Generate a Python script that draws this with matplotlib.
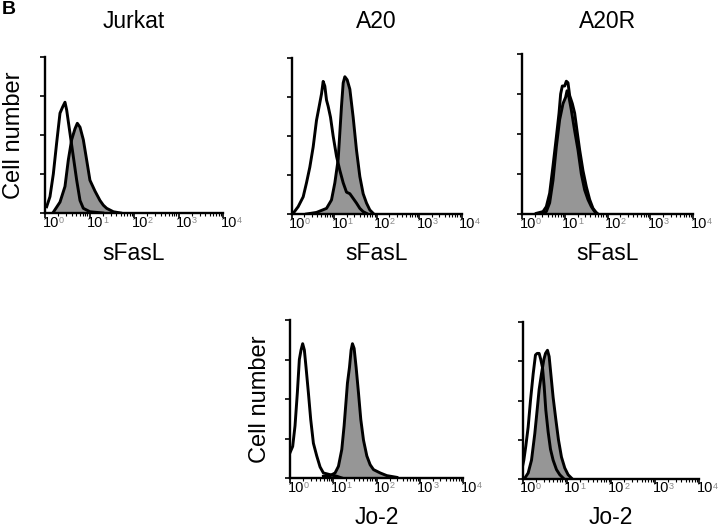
import numpy as np
import matplotlib
matplotlib.use("Agg")
import matplotlib.pyplot as plt
from matplotlib.ticker import LogLocator, FixedLocator, NullFormatter

plt.rcParams['font.family'] = ['Liberation Sans', 'DejaVu Sans']

W, H = 720, 529

# ---------------- data (log10 fluorescence, % of axis max) ----------------
# Jurkat, sFasL
jurkat_open_log = [0.037, 0.112, 0.187, 0.262, 0.337, 0.397, 0.449, 0.487, 0.562, 0.637, 0.712, 0.787, 0.861, 1.01, 1.3]
jurkat_open_cnt = [4, 10.5, 25, 45, 64, 68, 71, 66, 51, 36, 21, 8, 3, 0.8, 0]
jurkat_fill_log = [0.187, 0.337, 0.449, 0.524, 0.599, 0.674, 0.726, 0.787, 0.861, 0.936, 1.01, 1.124, 1.236, 1.311, 1.386, 1.536, 1.7]
jurkat_fill_cnt = [0.5, 7, 17, 34, 47, 54, 57.5, 55, 47, 34, 21, 14, 8, 5, 3, 0.8, 0]

# A20, sFasL
a20_open_log = [0.039, 0.157, 0.275, 0.353, 0.431, 0.510, 0.588, 0.651, 0.706, 0.745, 0.784, 0.824, 0.863, 0.918, 0.980,
                1.059, 1.137, 1.216, 1.294, 1.373, 1.451, 1.529, 1.608, 1.686, 1.765]
a20_open_cnt = [0.4, 4.7, 11, 20, 30, 43, 60, 69, 77, 85, 82, 73, 69, 62, 50,
                37, 28, 20, 14, 13, 10, 7, 3.6, 1.5, 0.4]
a20_fill_log = [0.353, 0.588, 0.824, 0.941, 1.020, 1.098, 1.137, 1.176, 1.216, 1.255, 1.310, 1.373, 1.451, 1.529, 1.608,
                1.686, 1.765, 1.843, 1.922]
a20_fill_cnt = [0, 1, 3.6, 9, 20, 35, 52, 69, 84, 88, 86, 80, 62, 41, 24,
                13, 7, 2.6, 0.4]

# A20R, sFasL
a20r_open_log = [0.335, 0.491, 0.569, 0.647, 0.725, 0.803, 0.866, 0.904, 0.943, 0.998, 1.037, 1.076, 1.115, 1.177, 1.232,
                 1.287, 1.349, 1.427, 1.505, 1.583, 1.661, 1.739]
a20r_open_cnt = [0.4, 1.5, 4.6, 13, 30, 48, 63, 75, 80, 80, 83, 82, 74, 69, 63,
                 52, 40, 27, 17, 9, 3.5, 0.8]
a20r_fill_log = [0.413, 0.569, 0.647, 0.725, 0.803, 0.881, 0.959, 1.021, 1.053, 1.099, 1.154, 1.232, 1.310, 1.388, 1.466,
                 1.544, 1.622, 1.700, 1.778]
a20r_fill_cnt = [0, 1.5, 7, 21, 42, 59, 69, 73, 77, 73, 65, 52, 40, 25, 15,
                 9, 4.6, 1.5, 0]

# A20, Jo-2
a20jo_open_log = [0.0, 0.062, 0.116, 0.170, 0.216, 0.255, 0.293, 0.332, 0.371, 0.425, 0.479, 0.541, 0.618, 0.695, 0.772,
                  0.927, 1.081, 1.2]
a20jo_open_cnt = [16, 20, 33, 54, 75, 81, 85, 81, 70, 54, 37, 22, 14, 7, 3.2,
                  2.1, 1.1, 0]
a20jo_fill_log = [0.772, 0.927, 1.042, 1.120, 1.197, 1.251, 1.297, 1.328, 1.375, 1.413, 1.444, 1.483, 1.529, 1.583, 1.637,
                  1.699, 1.776, 1.853, 1.931, 2.085, 2.239, 2.471]
a20jo_fill_cnt = [1.1, 1.5, 3.2, 7.4, 18, 33, 49, 60, 70, 81, 85, 82, 70, 54, 37,
                  24, 14, 8.4, 5.3, 3.2, 1.5, 0.4]

# A20R, Jo-2
a20rjo_open_log = [0.0, 0.030, 0.075, 0.128, 0.181, 0.242, 0.294, 0.332, 0.377, 0.415, 0.453, 0.491, 0.528, 0.581, 0.634,
                   0.694, 0.770, 0.845, 0.921]
a20rjo_open_cnt = [8, 12, 21, 33, 50, 67, 79, 80, 80, 76, 71, 59, 44, 30, 19,
                   12, 6, 2.7, 0.6]
a20rjo_fill_log = [0.053, 0.128, 0.204, 0.279, 0.332, 0.377, 0.430, 0.483, 0.521, 0.566, 0.604, 0.642, 0.694, 0.755, 0.815,
                   0.883, 0.958, 1.034, 1.109]
a20rjo_fill_cnt = [0.6, 3.8, 12, 29, 44, 57, 67, 76, 80, 82, 78, 67, 52, 38, 25,
                   14, 7, 2.7, 0.6]

col_titles = ["Jurkat", "A20", "A20R"]
xlabels = ["sFasL", "sFasL", "sFasL", "Jo-2", "Jo-2"]
decades = [0, 1, 2, 3, 4]

# ---------------- layout (pixel boxes: left, top, right, bottom) ----------------
boxes = [
    (45, 57, 223, 213),
    (291.5, 58, 461.5, 214),
    (522, 54, 693, 214),
    (290, 320, 463, 478),
    (522.5, 322, 699, 479),
]
panels = [
    (jurkat_open_log, jurkat_open_cnt, jurkat_fill_log, jurkat_fill_cnt),
    (a20_open_log, a20_open_cnt, a20_fill_log, a20_fill_cnt),
    (a20r_open_log, a20r_open_cnt, a20r_fill_log, a20r_fill_cnt),
    (a20jo_open_log, a20jo_open_cnt, a20jo_fill_log, a20jo_fill_cnt),
    (a20rjo_open_log, a20rjo_open_cnt, a20rjo_fill_log, a20rjo_fill_cnt),
]

fig = plt.figure(figsize=(W / 100, H / 100), dpi=100)
PX = 72 / 100  # points per pixel

def fx(x):
    return x / W

def fy(y):
    return 1 - y / H

axes = []
for (l, t, r, b), (olog, ocnt, flog, fcnt), xl in zip(boxes, panels, xlabels):
    ax = fig.add_axes([fx(l), fy(b), (r - l) / W, (b - t) / H])
    ox = 10 ** np.array(olog)
    fxv = 10 ** np.array(flog)
    ax.fill_between(fxv, fcnt, 0, color="#969696", lw=0, zorder=1)
    ax.plot(fxv, fcnt, color="black", lw=2.1, zorder=3, solid_joinstyle="round")
    ax.plot(ox, ocnt, color="black", lw=2.1, zorder=3, solid_joinstyle="round")
    ax.set_xscale("log")
    ax.set_xlim(1, 1e4)
    ax.set_ylim(0, 100)
    for s in ("top", "right"):
        ax.spines[s].set_visible(False)
    for s in ("left", "bottom"):
        ax.spines[s].set_linewidth(1.7)
        ax.spines[s].set_zorder(4)
    ax.set_yticks([0, 25, 50, 75, 100])
    ax.set_yticklabels([])
    ax.tick_params(axis="y", direction="out", length=3.5, width=1.2, left=True)
    ax.xaxis.set_major_locator(FixedLocator([10.0 ** d for d in decades]))
    ax.xaxis.set_minor_locator(LogLocator(base=10, subs=np.arange(2, 10), numticks=20))
    ax.xaxis.set_minor_formatter(NullFormatter())
    ax.set_xticklabels([])
    ax.tick_params(axis="x", which="major", direction="out", length=3.5, width=1.2)
    ax.tick_params(axis="x", which="minor", direction="out", length=1.8, width=0.8)
    for d in decades:
        ax.annotate("10", xy=(10.0 ** d, 0), xycoords="data",
                    xytext=(-2.5 * PX, -2.5 * PX), textcoords="offset points",
                    ha="left", va="top", fontsize=10.5, color="black")
        ax.annotate(str(d), xy=(10.0 ** d, 0), xycoords="data",
                    xytext=(13.5 * PX, -3 * PX), textcoords="offset points",
                    ha="left", va="top", fontsize=6.5, color="#8a8a8a")
    cx = (l + r) / 2
    ylab = 254 if b < 300 else 517
    fig.text(fx(cx), fy(ylab), xl, ha="center", va="center", fontsize=16.5)
    axes.append(ax)

# column titles
for (l, t, r, b), title in zip(boxes[:3], col_titles):
    fig.text(fx((l + r) / 2), fy(22), title, ha="center", va="center", fontsize=16.5)

# y labels
fig.text(fx(14), fy(135), "Cell number", rotation=90, ha="center", va="center", fontsize=17)
fig.text(fx(260), fy(399), "Cell number", rotation=90, ha="center", va="center", fontsize=17)

# panel letter
fig.text(fx(2), fy(1), "B", ha="left", va="top", fontsize=14, fontweight="bold")

fig.savefig("out.png", dpi=100)
